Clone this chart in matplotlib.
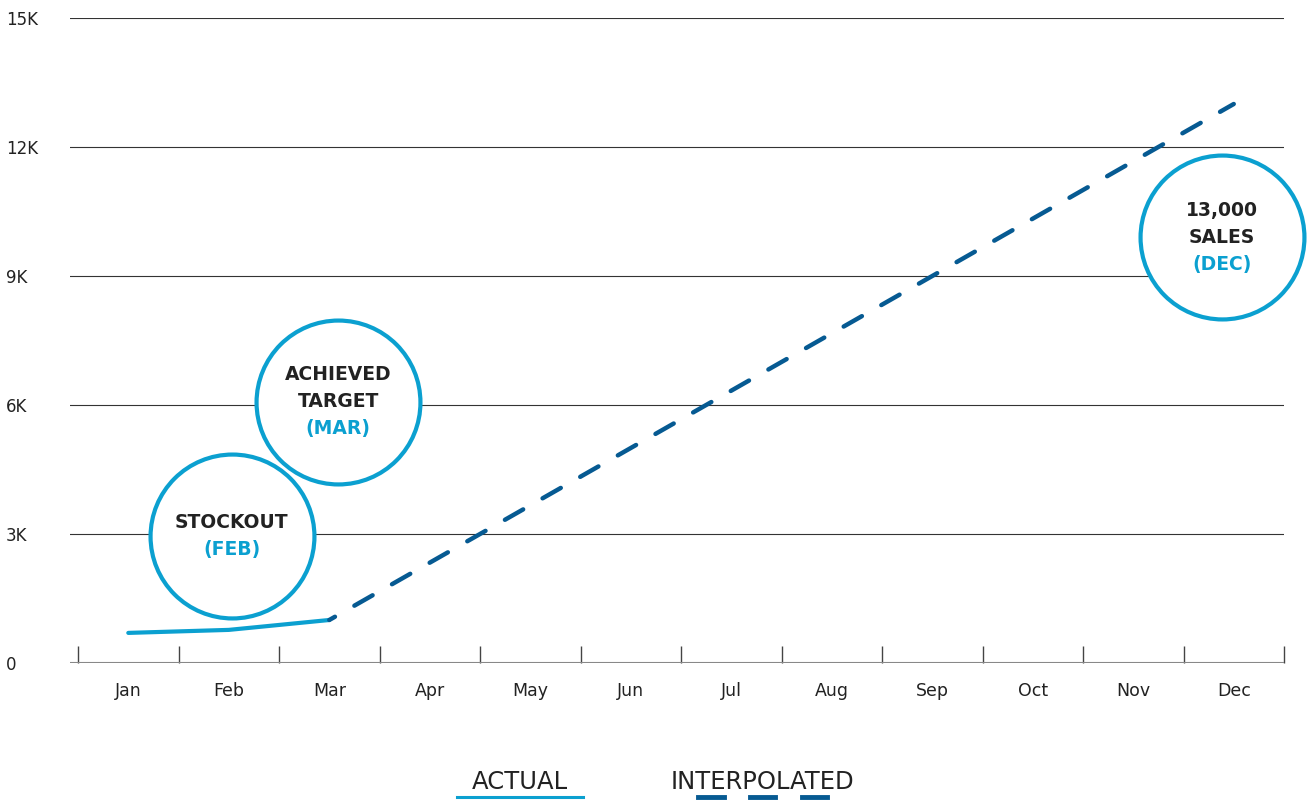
import matplotlib
matplotlib.use("Agg")
import matplotlib.pyplot as plt
from matplotlib.lines import Line2D

plt.rcParams['font.family'] = ['DejaVu Sans']

# data
months = ['Jan', 'Feb', 'Mar', 'Apr', 'May', 'Jun', 'Jul', 'Aug', 'Sep', 'Oct', 'Nov', 'Dec']
actual_months = ['Jan', 'Feb', 'Mar']
actual_sales = [700, 770, 1000]
interp_months = ['Mar', 'Dec']
interp_sales = [1000, 13000]
y_ticks = [0, 3000, 6000, 9000, 12000, 15000]
y_labels = ['0', '3K', '6K', '9K', '12K', '15K']

LIGHT = '#0ba0d0'
DARK = '#065a92'
TEXT = '#222222'

fig = plt.figure(figsize=(13.07, 8), dpi=100)
ax = fig.add_axes([70 / 1307, 1 - 663 / 800, 1214 / 1307, 645 / 800])

idx = {m: i for i, m in enumerate(months)}
ax.plot([idx[m] for m in actual_months], actual_sales, color=LIGHT, lw=3,
        solid_capstyle='round', zorder=3)
ax.plot([idx[m] for m in interp_months], interp_sales, color=DARK, lw=3.2,
        linestyle=(3.25, (4.72, 5.03)), dash_capstyle='round', zorder=3)

ax.set_xlim(-0.58, 11.5)
ax.set_ylim(0, 15000)

# gridlines
for y in y_ticks[1:]:
    ax.axhline(y, color='#333333', lw=0.8, zorder=1)
ax.axhline(0, color='#888888', lw=1.5, zorder=2)

for s in ax.spines.values():
    s.set_visible(False)

ax.set_yticks(y_ticks)
ax.set_yticklabels(y_labels)
ax.tick_params(axis='y', length=0, pad=46, labelsize=12, labelcolor=TEXT)
for t in ax.get_yticklabels():
    t.set_horizontalalignment('left')

ax.set_xticks([i - 0.5 for i in range(13)])
ax.set_xticklabels([])
ax.set_xticks(range(12), minor=True)
ax.set_xticklabels(months, minor=True)
ax.tick_params(axis='x', which='major', direction='in', length=12, width=1, color='#444444')
ax.tick_params(axis='x', which='minor', length=0, pad=14, labelsize=12.5, labelcolor=TEXT)

# callout circles
callouts = [
    (1.03, 2950, ['STOCKOUT'], '(FEB)'),
    (2.09, 6070, ['ACHIEVED', 'TARGET'], '(MAR)'),
    (10.88, 9900, ['13,000', 'SALES'], '(DEC)'),
]
for x, y, lines, tag in callouts:
    ax.scatter([x], [y], s=118 ** 2, facecolor='white', edgecolor=LIGHT,
               linewidth=3, zorder=4, clip_on=False)
    n = len(lines) + 1
    step = 27
    start = (n - 1) / 2 * step
    for k, ln in enumerate(lines):
        ax.annotate(ln, (x, y), xytext=(0, (start - k * step) * 0.72), textcoords='offset points',
                    ha='center', va='center', fontsize=13.5, fontweight='bold', color=TEXT, zorder=5)
    ax.annotate(tag, (x, y), xytext=(0, (start - len(lines) * step) * 0.72), textcoords='offset points',
                ha='center', va='center', fontsize=13.5, fontweight='bold', color=LIGHT, zorder=5)

# custom legend
fig.text(520 / 1307, 1 - 782 / 800, 'ACTUAL', ha='center', va='center', fontsize=17.5, color=TEXT)
fig.text(762 / 1307, 1 - 782 / 800, 'INTERPOLATED', ha='center', va='center', fontsize=17.5, color=TEXT)
yl = 1 - 797 / 800
fig.add_artist(Line2D([457 / 1307, 583 / 1307], [yl, yl], color=LIGHT, lw=2.2))
for x0, x1 in [(698, 724), (750, 775), (802, 827)]:
    fig.add_artist(Line2D([x0 / 1307, x1 / 1307], [yl, yl], color=DARK, lw=3.5))

fig.savefig('out.png', dpi=100)
